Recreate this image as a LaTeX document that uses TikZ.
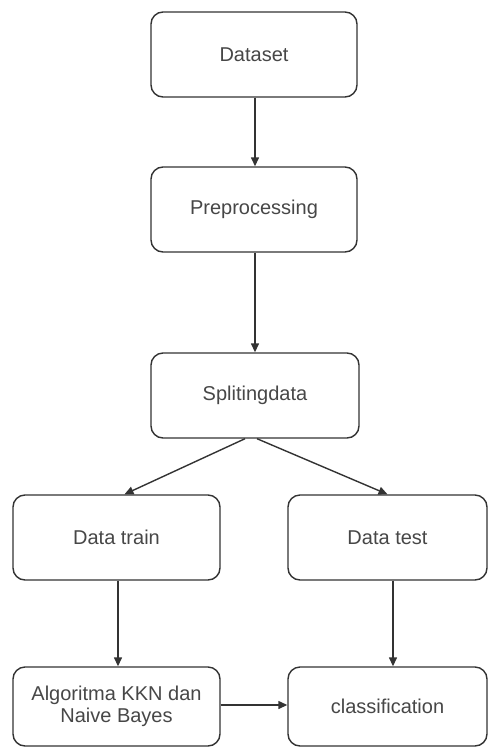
\documentclass[tikz,border=0pt]{standalone}
\usepackage{fontspec}
\setmainfont{Liberation Sans}
\usetikzlibrary{arrows.meta}
\definecolor{linec}{HTML}{333333}
\definecolor{textc}{HTML}{474747}
\begin{document}
\begin{tikzpicture}[x=1pt,y=-1pt,
  box/.style={draw=linec,line width=1.4pt,rounded corners=12pt,minimum width=206pt,minimum height=85pt,inner sep=0pt,text=textc,font=\fontsize{20}{22}\selectfont,align=center,fill=white},
  arr/.style={draw=linec,line width=1.4pt,-{Triangle[length=9pt,width=8pt]}}]
\useasboundingbox[fill=white] (0,0) rectangle (488,747);
\node[box] (dataset) at (254,54.5) {Dataset};
\node[box] (prep) at (254,209.5) {Preprocessing};
\node[box,minimum width=208pt] (split) at (255,395.5) {Splitingdata};
\node[box,minimum width=207pt] (train) at (116.5,537.5) {Data train};
\node[box,minimum width=199pt] (test) at (387.5,537.5) {Data test};
\node[box,minimum width=207pt,minimum height=79pt] (algo) at (116.5,706.5) {Algoritma KKN dan\\Naive Bayes};
\node[box,minimum width=199pt,minimum height=79pt] (class) at (387.5,706.5) {classification};
\draw[arr] ([xshift=1pt]dataset.south) -- ([xshift=1pt]prep.north);
\draw[arr] ([xshift=1pt]prep.south) -- ([xshift=0pt]split.north);
\draw[arr] ([xshift=-10pt]split.south) -- ([xshift=8pt]train.north);
\draw[arr] ([xshift=2pt]split.south) -- (test.north);
\draw[arr] ([xshift=1.5pt]train.south) -- ([xshift=1.5pt]algo.north);
\draw[arr] ([xshift=5.5pt]test.south) -- ([xshift=5.5pt]class.north);
\draw[arr] ([yshift=1.5pt]algo.east) -- ([yshift=1.5pt]class.west);
\end{tikzpicture}
\end{document}
